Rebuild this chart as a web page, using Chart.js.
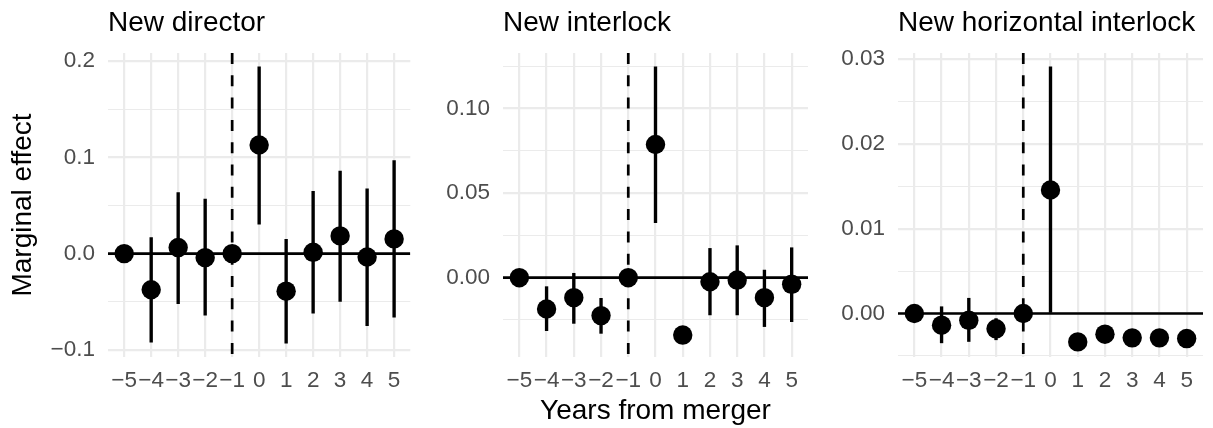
<!DOCTYPE html>
<html><head><meta charset="utf-8">
<script src="https://cdn.jsdelivr.net/npm/chart.js@4/dist/chart.umd.min.js"></script>
<style>
html,body{margin:0;padding:0;background:#fff;}
#wrap{position:relative;width:1213px;height:428px;overflow:hidden;background:#fff;}
canvas{position:absolute;top:0;}
</style></head><body>
<div id="wrap">
<canvas id="c1" width="420" height="428" style="left:0px;width:420px;height:428px"></canvas>
<canvas id="c2" width="400" height="428" style="left:420px;width:400px;height:428px"></canvas>
<canvas id="c3" width="393" height="428" style="left:820px;width:393px;height:428px"></canvas>
</div>
<script>
// ---- data ----
const years = [-5, -4, -3, -2, -1, 0, 1, 2, 3, 4, 5];
const yearLabels = ['−5', '−4', '−3', '−2', '−1', '0', '1', '2', '3', '4', '5'];
const mergerYearRef = -1;
const zeroRef = 0;

const titleDirector = 'New director';
const estDirector = [0, -0.0375, 0.0063, -0.0042, 0, 0.1128, -0.039, 0.0014, 0.0184, -0.0035, 0.0153];
const loDirector  = [null, -0.092, -0.052, -0.064, null, 0.0306, -0.093, -0.0618, -0.0497, -0.0747, -0.066];
const hiDirector  = [null, 0.0167, 0.0635, 0.0566, null, 0.194, 0.0149, 0.0646, 0.0858, 0.0674, 0.0965];
const yTicksDirector = [-0.1, 0, 0.1, 0.2];
const yLabelsDirector = ['−0.1', '0.0', '0.1', '0.2'];
const yMinorDirector = [-0.05, 0.05, 0.15];

const titleInterlock = 'New interlock';
const estInterlock = [0, -0.0185, -0.0118, -0.0224, 0, 0.0787, -0.0339, -0.0024, -0.0014, -0.0118, -0.0039];
const loInterlock  = [null, -0.0313, -0.027, -0.0329, null, 0.0325, -0.0387, -0.022, -0.022, -0.0289, -0.026];
const hiInterlock  = [null, -0.0053, 0.0026, -0.0122, null, 0.1246, -0.029, 0.0173, 0.0189, 0.0045, 0.0177];
const yTicksInterlock = [0, 0.05, 0.10];
const yLabelsInterlock = ['0.00', '0.05', '0.10'];
const yMinorInterlock = [-0.025, 0.025, 0.075, 0.125];

const titleHorizontal = 'New horizontal interlock';
const estHorizontal = [0, -0.00138, -0.0008, -0.0018, 0, 0.01457, -0.00335, -0.00244, -0.00287, -0.00287, -0.00295];
const loHorizontal  = [null, -0.00346, -0.0033, -0.0031, null, 0.0, -0.0035, -0.0027, -0.0031, -0.0031, -0.0032];
const hiHorizontal  = [null, 0.0008, 0.0018, -0.0006, null, 0.0291, -0.0031, -0.0022, -0.0026, -0.0026, -0.0027];
const yTicksHorizontal = [0, 0.01, 0.02, 0.03];
const yLabelsHorizontal = ['0.00', '0.01', '0.02', '0.03'];
const yMinorHorizontal = [-0.005, 0.005, 0.015, 0.025];

const yAxisTitle = 'Marginal effect';
const xAxisTitle = 'Years from merger';

// ---- styling ----
Chart.defaults.font.family = "'Liberation Sans', Arial, Helvetica, sans-serif";
const FONT_TICK = 22.5, FONT_TITLE = 28;
const GRID = '#ebebeb';

const refLines = {
  id: 'refLines',
  beforeDatasetsDraw(chart, args, opts) {
    const {ctx, chartArea: a, scales: {x, y}} = chart;
    ctx.save();
    ctx.beginPath(); ctx.rect(a.left, a.top, a.right - a.left, a.bottom - a.top); ctx.clip();
    ctx.strokeStyle = '#000';
    ctx.lineWidth = 2.7;
    const y0 = y.getPixelForValue(opts.yRef);
    ctx.beginPath(); ctx.moveTo(a.left, y0); ctx.lineTo(a.right, y0); ctx.stroke();
    const x0 = x.getPixelForValue(opts.xRef);
    ctx.setLineDash([11, 11.3]);
    ctx.beginPath(); ctx.moveTo(x0, a.top); ctx.lineTo(x0, a.bottom); ctx.stroke();
    ctx.restore();
  }
};

function expandRange(est, lo, hi) {
  const vals = est.concat(lo.filter(v => v !== null), hi.filter(v => v !== null));
  const mn = Math.min(...vals), mx = Math.max(...vals);
  const pad = 0.05 * (mx - mn);
  return [mn - pad, mx + pad];
}

function makePanel(id, title, est, lo, hi, yMaj, yLab, yMin, yAxisWidth, padRight, showYTitle, showXTitle) {
  const [ymin, ymax] = expandRange(est, lo, hi);
  const allY = yMaj.concat(yMin);
  const bars = [];
  years.forEach((x, i) => { if (lo[i] !== null) bars.push({x: x, y: [lo[i], hi[i]]}); });
  new Chart(document.getElementById(id), {
    type: 'scatter',
    data: {
      datasets: [
        {
          type: 'scatter',
          data: years.map((x, i) => ({x: x, y: est[i]})),
          pointRadius: 9.7,
          pointBackgroundColor: '#000',
          pointBorderWidth: 0,
          order: 0
        },
        {
          type: 'bar',
          data: bars,
          backgroundColor: '#000',
          borderWidth: 0,
          barThickness: 2.7,
          order: 1
        }
      ]
    },
    options: {
      responsive: false,
      animation: false,
      events: [],
      layout: {padding: {left: 0, right: padRight, top: 0, bottom: 0}},
      plugins: {
        legend: {display: false},
        tooltip: {enabled: false},
        title: {
          display: true, text: title, align: 'start', fullSize: false,
          color: '#000', font: {size: FONT_TITLE, weight: 'normal'},
          padding: {top: 6, bottom: 13.4}
        },
        refLines: {xRef: mergerYearRef, yRef: zeroRef}
      },
      scales: {
        x: {
          type: 'linear', min: -5.6, max: 5.6, offset: false,
          afterBuildTicks: s => { s.ticks = years.map(v => ({value: v})); },
          afterFit: s => { s.height = 71; },
          ticks: {
            callback: (v, i) => yearLabels[i],
            autoSkip: false, maxRotation: 0, minRotation: 0,
            color: '#4d4d4d', font: {size: FONT_TICK}, padding: 10.5
          },
          grid: {color: GRID, lineWidth: 2.2, drawTicks: false, offset: false},
          border: {display: false},
          title: {display: showXTitle, text: xAxisTitle, color: '#000', font: {size: FONT_TITLE}, padding: {top: 0, bottom: 0}}
        },
        y: {
          type: 'linear', min: ymin, max: ymax, offset: false,
          afterBuildTicks: s => { s.ticks = allY.map(v => ({value: v})); },
          afterFit: s => { s.width = yAxisWidth; },
          ticks: {
            callback: (v, i) => (i < yMaj.length ? yLab[i] : ''),
            autoSkip: false,
            color: '#4d4d4d', font: {size: FONT_TICK}, padding: 13
          },
          grid: {color: GRID, lineWidth: c => (c.index < yMaj.length ? 2.2 : 1.1), drawTicks: false, offset: false},
          border: {display: false},
          title: {display: showYTitle, text: yAxisTitle, color: '#000', font: {size: FONT_TITLE}, padding: {top: 6, bottom: 0}}
        }
      }
    },
    plugins: [refLines]
  });
}

makePanel('c1', titleDirector, estDirector, loDirector, hiDirector, yTicksDirector, yLabelsDirector, yMinorDirector, 108, 7, true, false);
makePanel('c2', titleInterlock, estInterlock, loInterlock, hiInterlock, yTicksInterlock, yLabelsInterlock, yMinorInterlock, 83, 12, false, true);
makePanel('c3', titleHorizontal, estHorizontal, loHorizontal, hiHorizontal, yTicksHorizontal, yLabelsHorizontal, yMinorHorizontal, 78, 10, false, false);
</script>
</body></html>
